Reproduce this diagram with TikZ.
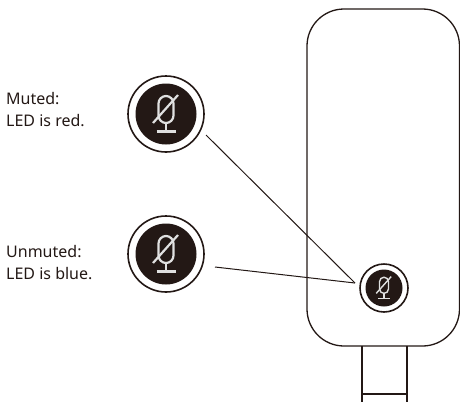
\documentclass[tikz,border=0pt]{standalone}
\usepackage{fontspec}
\setmainfont{Noto Sans}
\usetikzlibrary{arrows.meta,shapes}
\definecolor{inkblack}{HTML}{231815}
\newcommand{\miclw}{2.2pt}

\tikzset{
  micicon/.pic={
    \draw[white!88!black,line width=\miclw]
      (-7.5,-10.5) .. controls (-7.5,-14.6) and (-4.1,-18) .. (0,-18)
      .. controls (4.1,-18) and (7.5,-14.6) .. (7.5,-10.5) -- (7.5,1.5)
      .. controls (7.5,5.6) and (4.1,9) .. (0,9)
      .. controls (-4.1,9) and (-7.5,5.6) .. (-7.5,1.5) -- cycle;
    \draw[white!88!black,line width=\miclw] (0,9) -- (0,17.5);
    \draw[white!88!black,line width=\miclw] (-9.5,17.5) -- (9.5,17.5);
    \draw[white!88!black,line width=\miclw] (-13,9) -- (12,-19);
  },
  ring/.style={circle,draw=inkblack,line width=1.6pt,fill=white,inner sep=0pt},
  disc/.style={circle,fill=inkblack,inner sep=0pt},
  caption/.style={anchor=west,align=left,text=inkblack,font=\fontsize{16}{22}\selectfont,inner sep=0pt},
  outline/.style={draw=inkblack,line width=1.3pt}
}

\begin{document}
\begin{tikzpicture}[x=1pt,y=-1pt]
  \useasboundingbox (0,0) rectangle (460,402);
  \clip (0,0) rectangle (460,402);
  % housing and cable
  \draw[outline,rounded corners=37pt] (307,9) rectangle (459.5,346);
  \draw[outline] (362,346) -- (362,402);
  \draw[outline] (407,346) -- (407,402);
  \draw[outline] (362,394) -- (407,394);
  % buttons
  \node[ring,minimum size=76pt] (muted) at (166,114) {};
  \node[disc,minimum size=61pt] at (muted) {};
  \node[ring,minimum size=76pt] (unmuted) at (166,254) {};
  \node[disc,minimum size=61pt] at (unmuted) {};
  \node[ring,minimum size=48pt] (button) at (384,288) {};
  \node[disc,minimum size=37pt] at (button) {};
  \pic at (muted) {micicon};
  \pic at (unmuted) {micicon};
  \renewcommand{\miclw}{1.4pt}
  \pic[scale=0.6] at (button) {micicon};
  % labels
  \node[caption] (mutedtext) at (6,110) {Muted:\\LED is red.};
  \node[caption] (unmutedtext) at (6,263) {Unmuted:\\LED is blue.};
  % leaders
  \coordinate (mutedend) at (206,135);
  \coordinate (unmutedend) at (215,267);
  \coordinate (buttonend) at (355,283);
  \draw[inkblack,line width=1pt] (mutedend) -- (buttonend);
  \draw[inkblack,line width=1pt] (unmutedend) -- (buttonend);
\end{tikzpicture}
\end{document}
